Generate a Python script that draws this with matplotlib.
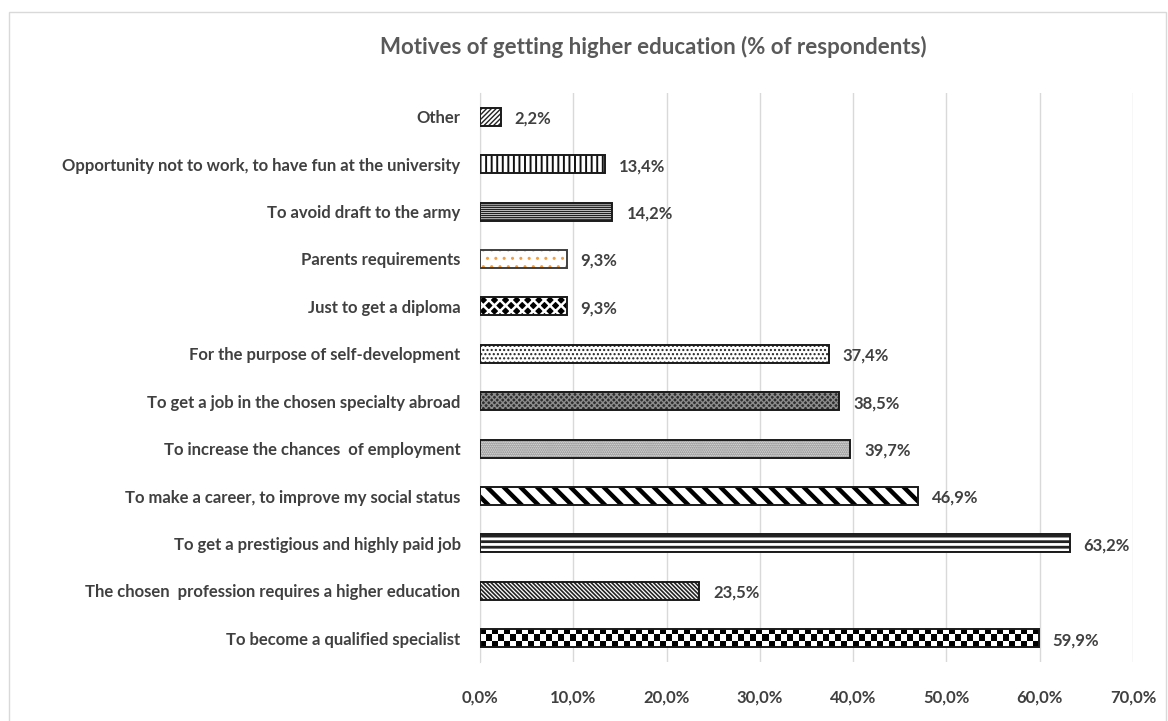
import numpy as np
import matplotlib
matplotlib.use("Agg")
import matplotlib.pyplot as plt
from matplotlib.patches import Rectangle
from matplotlib.ticker import FuncFormatter

# motives, bottom to top
motives = [
    "To become a qualified specialist",
    "The chosen  profession requires a higher education",
    "To get a prestigious and highly paid job",
    "To make a career, to improve my social status",
    "To increase the chances  of employment",
    "To get a job in the chosen specialty abroad",
    "For the purpose of self-development",
    "Just to get a diploma",
    "Parents requirements",
    "To avoid draft to the army",
    "Opportunity not to work, to have fun at the university",
    "Other",
]
shares = [59.9, 23.5, 63.2, 46.9, 39.7, 38.5, 37.4, 9.3, 9.3, 14.2, 13.4, 2.2]
x_ticks = [0, 10, 20, 30, 40, 50, 60, 70]

# (face, hatch, hatch colour, hatch width) per bar; None hatch -> checkerboard image
styles = [
    ("white", None, "black", 1.0),
    ("white", "\\\\\\\\\\\\\\\\", "#222222", 1.2),
    ("white", "---", "#222222", 2.0),
    ("white", "\\\\", "black", 3.2),
    ("#f0f0f0", "........", "#707070", 1.0),
    ("#2e2e2e", "xxxxxx", "#8c8c8c", 1.0),
    ("white", "....", "#222222", 1.0),
    ("black", "xxx", "white", 1.8),
    ("white", "..", "#f4a040", 1.0),
    ("white", "--------", "#222222", 1.0),
    ("white", "|||", "#111111", 1.4),
    ("white", "///////", "#222222", 1.0),
]

TEXT = "#404040"
GRID = "#d9d9d9"
FONT = ["Lato", "DejaVu Sans"]

plt.rcParams["font.family"] = FONT

W, H = 1168, 721
fig = plt.figure(figsize=(W / 100, H / 100), dpi=100)
fig.patches.append(Rectangle((9 / W, -0.01), 1157 / W, 1 - 12 / H + 0.01,
                             transform=fig.transFigure, fill=False,
                             edgecolor=GRID, linewidth=1.0))

ax_left, ax_right, ax_top, ax_bottom = 480, 1133, 93, 662
ax = fig.add_axes([ax_left / W, 1 - ax_bottom / H,
                   (ax_right - ax_left) / W, (ax_bottom - ax_top) / H])
y = np.arange(len(motives))
bar_h = 0.38

for i, (val, (face, hatch, hcol, hlw)) in enumerate(zip(shares, styles)):
    if hatch is None:
        base = ax.barh(i, val, height=bar_h, color="white", linewidth=0, zorder=2)[0]
        px_per_unit = (ax_right - ax_left) / 70
        ncols = int(round(val * px_per_unit / 6.0))
        nrows = 3
        board = (np.add.outer(np.arange(nrows), np.arange(ncols)) % 2).astype(float)
        im = ax.imshow(board, cmap="gray", extent=(0, val, i - bar_h / 2, i + bar_h / 2),
                       aspect="auto", interpolation="nearest", zorder=2.5)
        im.set_clip_path(base)
    else:
        plt.rcParams["hatch.linewidth"] = hlw
        p = ax.barh(i, val, height=bar_h, color=face, edgecolor=hcol, hatch=hatch,
                    linewidth=0, zorder=2)[0]
        if hasattr(p, "set_hatch_linewidth"):
            p.set_hatch_linewidth(hlw)
    edge = "#404040" if i == 8 else "#1a1a1a"
    ax.barh(i, val, height=bar_h, fill=False, edgecolor=edge, linewidth=1.4, zorder=3)
    ax.text(val + 1.5, i - 0.04, f"{val:.1f}%".replace(".", ","), va="center", ha="left",
            fontsize=12, fontweight="bold", color=TEXT)

ax.set_xlim(0, 70)
ax.set_ylim(-0.5, len(motives) - 0.5)
ax.set_xticks(x_ticks)
ax.xaxis.set_major_formatter(FuncFormatter(lambda v, _: f"{v:.1f}%".replace(".", ",")))
ax.set_yticks(y)
ax.set_yticklabels(motives)
ax.grid(axis="x", color=GRID, linewidth=1.0, zorder=0)
ax.set_axisbelow(True)
for side in ["top", "right", "bottom"]:
    ax.spines[side].set_visible(False)
ax.spines["left"].set_color(GRID)
ax.tick_params(axis="both", length=0, labelsize=12, labelcolor=TEXT)
ax.tick_params(axis="x", pad=20)
ax.tick_params(axis="y", pad=14)
for lab in ax.get_xticklabels() + ax.get_yticklabels():
    lab.set_fontweight("bold")

fig.text(653 / W, 1 - 47 / H, "Motives of getting higher education (% of respondents)",
         ha="center", va="center", fontsize=16, fontweight="bold", color="#595959")

fig.savefig("out.png", dpi=100)
